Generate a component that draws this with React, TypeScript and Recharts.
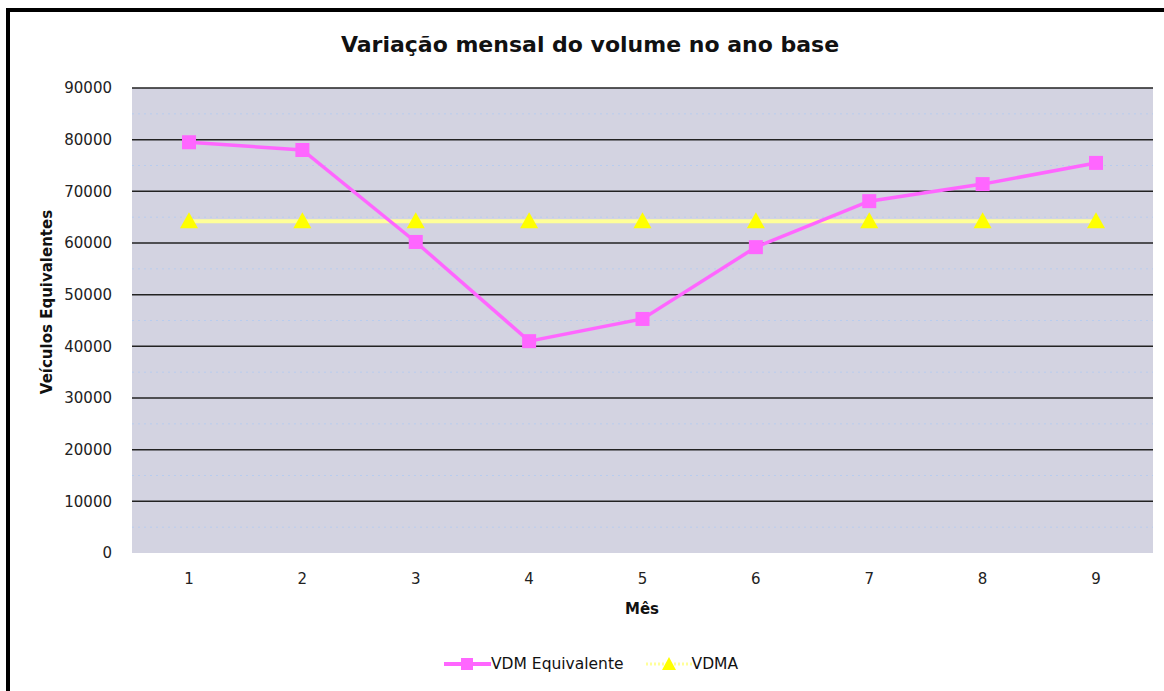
import React from "react";
import {
  LineChart, Line, XAxis, YAxis, CartesianGrid, ReferenceLine,
} from "recharts";

const meses = ["1", "2", "3", "4", "5", "6", "7", "8", "9"];
const vdmEquivalente = [79500, 78000, 60200, 41000, 45300, 59200, 68100, 71400, 75500];
const vdma = [64200, 64200, 64200, 64200, 64200, 64200, 64200, 64200, 64200];
const yTicks = [0, 10000, 20000, 30000, 40000, 50000, 60000, 70000, 80000, 90000];
const gridValues = [10000, 20000, 30000, 40000, 50000, 60000, 70000, 80000, 90000];
const minorValues = [5000, 15000, 25000, 35000, 45000, 55000, 65000, 75000, 85000];

const data = meses.map((m, i) => ({ mes: m, vdm: vdmEquivalente[i], vdma: vdma[i] }));

const PINK = "#FF66FF";
const YELLOW_LINE = "#FFFF99";
const YELLOW = "#FFFF00";
const FONT = "'DejaVu Sans', sans-serif";

// marcador quadrado
const Square = (props: any) => {
  const { cx, cy } = props;
  if (cx == null || cy == null) return null;
  return <rect x={cx - 7} y={cy - 7} width={14} height={14} fill={PINK} />;
};

// marcador triangular
const Triangle = (props: any) => {
  const { cx, cy } = props;
  if (cx == null || cy == null) return null;
  return <polygon points={`${cx},${cy - 9} ${cx - 9},${cy + 7} ${cx + 9},${cy + 7}`} fill={YELLOW} />;
};

export default function App() {
  return (
    <div style={{ position: "fixed", left: 0, top: 0, width: 1164, height: 691, background: "#fff", overflow: "hidden", fontFamily: FONT }}>
      <div style={{ position: "absolute", left: 6, top: 8, width: 1200, height: 800, borderLeft: "4px solid #000", borderTop: "4px solid #000" }} />
      <div style={{ position: "absolute", left: 0, top: 32, width: 1180, textAlign: "center", fontSize: 22, fontWeight: "bold", color: "#111" }}>
        Variação mensal do volume no ano base
      </div>
      <div style={{ position: "absolute", left: 0, top: 0 }}>
        <LineChart width={1164} height={691} data={data} margin={{ top: 88, right: 11, left: 20, bottom: 108 }}>
          <CartesianGrid vertical={false} horizontalValues={gridValues} stroke="#222" strokeWidth={1.5} fill="#D3D3E1" />
          {minorValues.map(v => (
            <ReferenceLine key={v} y={v} stroke="#B8CCEE" strokeDasharray="2 4" strokeWidth={1} />
          ))}
          <XAxis dataKey="mes" axisLine={false} tickLine={false} height={30} padding={{ left: 57, right: 57 }}
            tick={{ fontSize: 15, fill: "#222", fontFamily: FONT }} tickMargin={14} />
          <YAxis domain={[0, 90000]} ticks={yTicks} axisLine={false} tickLine={false} width={112}
            tick={{ fontSize: 15, fill: "#222", fontFamily: FONT }} tickMargin={14} />
          <Line dataKey="vdma" stroke={YELLOW_LINE} strokeWidth={4} dot={<Triangle />} isAnimationActive={false} />
          <Line dataKey="vdm" stroke={PINK} strokeWidth={3.5} dot={<Square />} isAnimationActive={false} />
        </LineChart>
      </div>
      <div style={{ position: "absolute", left: 0, top: 600, width: 1284, textAlign: "center", fontSize: 15, fontWeight: "bold", color: "#111" }}>
        Mês
      </div>
      <div style={{ position: "absolute", left: 47, top: 302, width: 0, height: 0 }}>
        <div style={{ position: "absolute", left: -150, top: -10, width: 300, textAlign: "center", transform: "rotate(-90deg)", fontSize: 15, fontWeight: "bold", color: "#111", whiteSpace: "nowrap", lineHeight: "20px" }}>
          Veículos Equivalentes
        </div>
      </div>
      <div style={{ position: "absolute", left: 444, top: 654, display: "flex", alignItems: "center", fontSize: 15.5, color: "#111" }}>
        <svg width={47} height={20}>
          <line x1={0} y1={10} x2={47} y2={10} stroke={PINK} strokeWidth={4} />
          <rect x={17} y={4} width={12} height={12} fill={PINK} />
        </svg>
        <span style={{ marginRight: 22 }}>VDM Equivalente</span>
        <svg width={46} height={20}>
          <line x1={0} y1={10} x2={46} y2={10} stroke={YELLOW_LINE} strokeWidth={3} strokeDasharray="2 2" />
          <polygon points="23,3 16,16 30,16" fill={YELLOW} />
        </svg>
        <span>VDMA</span>
      </div>
    </div>
  );
}
